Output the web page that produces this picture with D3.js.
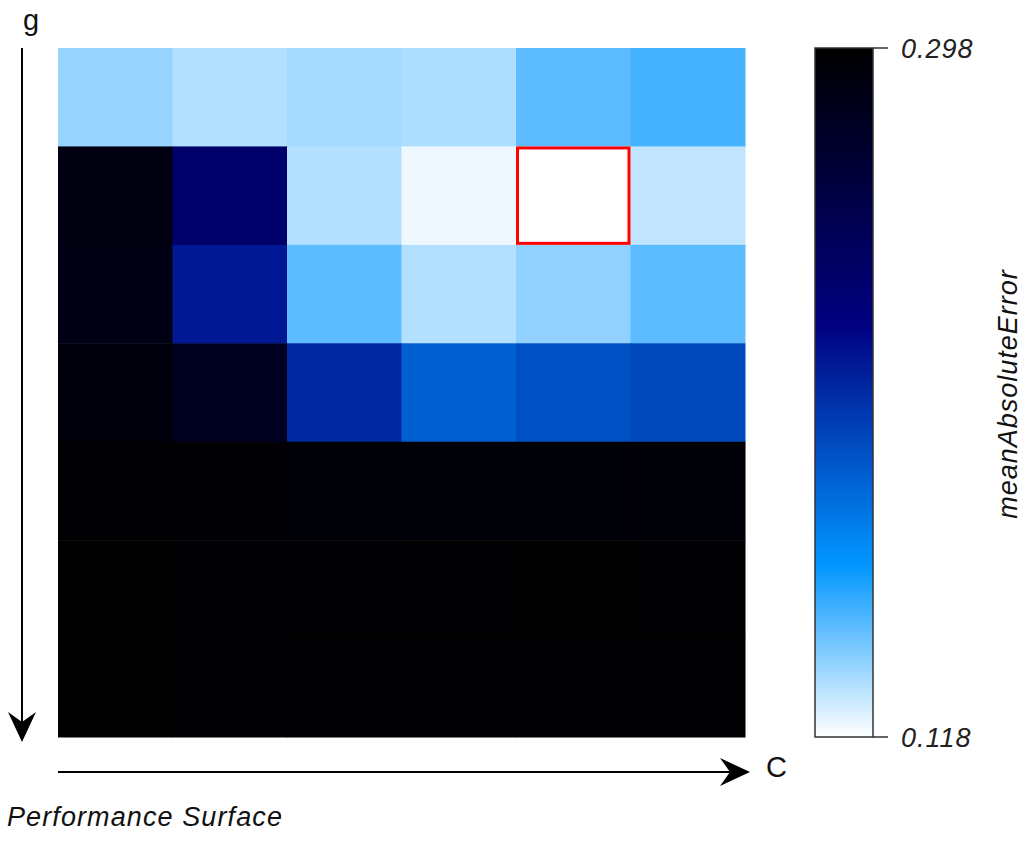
<!DOCTYPE html>
<html>
<head>
<meta charset="utf-8">
<script src="https://cdn.jsdelivr.net/npm/d3@7"></script>
<style>
    body { margin: 0; background: #fff; }
    svg { font-family: "Liberation Sans", Arial, sans-serif; }
</style>
</head>
<body>
<div class="container"><svg width="1024" height="847"></svg></div>
<script>
// grid levels (columns = C, rows = g)
var cLevels = [0, 1, 2, 3, 4, 5];
var gLevels = [0, 1, 2, 3, 4, 5, 6];

// meanAbsoluteError, one row per g level
var errorRows = [
    [0.1364, 0.1314, 0.1337, 0.1323, 0.1466, 0.1508],
    [0.2890, 0.2380, 0.1314, 0.1208, 0.1180, 0.1290],
    [0.2860, 0.2160, 0.1466, 0.1314, 0.1376, 0.1468],
    [0.2920, 0.2800, 0.2090, 0.1860, 0.1930, 0.1950],
    [0.2970, 0.2950, 0.2940, 0.2930, 0.2940, 0.2940],
    [0.2980, 0.2960, 0.2970, 0.2970, 0.2980, 0.2970],
    [0.2980, 0.2960, 0.2970, 0.2970, 0.2970, 0.2970]
];

var errMin = 0.118, errMax = 0.298;
var colorStops = [0, 0.25, 0.6, 1];
var colorRange = ["#ffffff", "#0096ff", "#000080", "#000000"];

function draw_surface() {
    var svg = d3.select(".container").select("svg");

    var x = d3.scaleBand().domain(cLevels).range([58, 745]);
    var y = d3.scaleBand().domain(gLevels).range([48, 737]);

    var t = d3.scaleLinear().domain([errMin, errMax]).range([0, 1]).clamp(true);
    var ramp = d3.scaleLinear().domain(colorStops).range(colorRange);
    var color = function (v) { return ramp(t(v)); };

    // flatten rows into cells
    var cells = [];
    errorRows.forEach(function (row, gi) {
        row.forEach(function (v, ci) {
            cells.push({ g: gLevels[gi], c: cLevels[ci], value: v });
        });
    });
    var best = cells.reduce(function (a, b) { return b.value < a.value ? b : a; });

    svg.append("g")
        .attr("class", "cells")
        .selectAll("rect")
        .data(cells)
        .enter().append("rect")
        .attr("x", function (d) { return x(d.c); })
        .attr("y", function (d) { return y(d.g); })
        .attr("width", x.bandwidth() + 0.5)
        .attr("height", y.bandwidth() + 0.5)
        .attr("fill", function (d) { return color(d.value); });

    // outline the best cell
    svg.append("rect")
        .attr("x", x(best.c) + 1.5)
        .attr("y", y(best.g) + 1.5)
        .attr("width", x.bandwidth() - 3)
        .attr("height", y.bandwidth() - 3)
        .attr("fill", "none")
        .attr("stroke", "#ff0000")
        .attr("stroke-width", 3);

    // arrow heads
    var defs = svg.append("defs");
    defs.append("marker")
        .attr("id", "head")
        .attr("viewBox", "0 0 30 30")
        .attr("refX", 28).attr("refY", 15)
        .attr("markerWidth", 30).attr("markerHeight", 30)
        .attr("markerUnits", "userSpaceOnUse")
        .attr("orient", "auto")
        .append("path")
        .attr("d", "M0,1 L30,15 L0,29 L10,15 Z")
        .attr("fill", "#000");

    svg.append("line")
        .attr("x1", 22).attr("y1", y.range()[0])
        .attr("x2", 22).attr("y2", y.range()[1] + 3)
        .attr("stroke", "#000").attr("stroke-width", 2)
        .attr("marker-end", "url(#head)");

    svg.append("line")
        .attr("x1", x.range()[0]).attr("y1", 772)
        .attr("x2", x.range()[1] + 3).attr("y2", 772)
        .attr("stroke", "#000").attr("stroke-width", 2)
        .attr("marker-end", "url(#head)");

    svg.append("text").attr("x", 23).attr("y", 30)
        .attr("font-size", 29).attr("fill", "#111").text("g");
    svg.append("text").attr("x", 766).attr("y", 777)
        .attr("font-size", 29).attr("fill", "#111").text("C");
    svg.append("text").attr("x", 7).attr("y", 826)
        .attr("font-size", 27).attr("letter-spacing", 1.1)
        .attr("font-style", "italic").attr("fill", "#111")
        .text("Performance Surface");

    // colour bar
    var barX = 815, barW = 58;
    var yBar = d3.scaleLinear().domain([errMin, errMax]).range([737, 48]);

    var grad = defs.append("linearGradient")
        .attr("id", "bar")
        .attr("x1", 0).attr("y1", 1).attr("x2", 0).attr("y2", 0);
    d3.range(0, 1.0001, 0.05).forEach(function (s) {
        grad.append("stop")
            .attr("offset", s)
            .attr("stop-color", ramp(s));
    });

    svg.append("rect")
        .attr("x", barX).attr("y", yBar(errMax))
        .attr("width", barW).attr("height", yBar(errMin) - yBar(errMax))
        .attr("fill", "url(#bar)")
        .attr("stroke", "#333").attr("stroke-width", 1.5);

    var ticks = [errMax, errMin];
    svg.append("g")
        .selectAll("line")
        .data(ticks)
        .enter().append("line")
        .attr("x1", barX + barW).attr("x2", barX + barW + 15)
        .attr("y1", function (d) { return yBar(d); })
        .attr("y2", function (d) { return yBar(d); })
        .attr("stroke", "#333").attr("stroke-width", 1.5);

    svg.append("g")
        .selectAll("text")
        .data(ticks)
        .enter().append("text")
        .attr("x", barX + barW + 28)
        .attr("y", function (d) { return yBar(d) + 10; })
        .attr("font-size", 27).attr("letter-spacing", 1)
        .attr("font-style", "italic").attr("fill", "#222")
        .text(function (d) { return d3.format(".3f")(d); });

    svg.append("text")
        .attr("transform", "translate(1017,394) rotate(-90)")
        .attr("text-anchor", "middle")
        .attr("font-size", 27).attr("letter-spacing", 1)
        .attr("font-style", "italic").attr("fill", "#111")
        .text("meanAbsoluteError");
}

draw_surface();
</script>
</body>
</html>
